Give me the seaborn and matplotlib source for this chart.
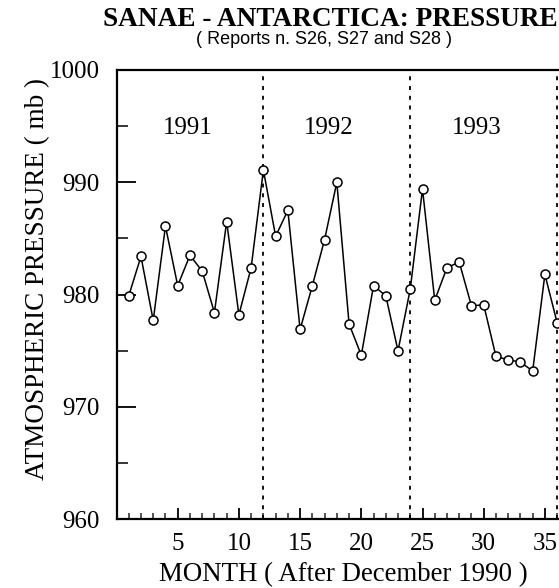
import numpy as np
import pandas as pd
import matplotlib
matplotlib.use("Agg")
import matplotlib.pyplot as plt
import seaborn as sns
from matplotlib.ticker import MultipleLocator

months = list(range(1, 37))
pressure = [979.9, 983.4, 977.7, 986.1, 980.8, 983.5, 982.1, 978.4, 986.5, 978.2,
            982.4, 991.1, 985.2, 987.5, 976.9, 980.8, 984.9, 990.0, 977.4, 974.6,
            980.8, 979.9, 975.0, 980.5, 989.4, 979.5, 982.4, 982.9, 979.0, 979.1,
            974.5, 974.2, 974.0, 973.2, 981.8, 977.5]
year_breaks = [12, 24, 36]
year_labels = ["1991", "1992", "1993"]
year_label_x = [5.8, 17.3, 29.4]
x_ticks = [5, 10, 15, 20, 25, 30, 35]
y_ticks = [960, 970, 980, 990, 1000]

df = pd.DataFrame({"month": months, "pressure": pressure})

sns.set_style("ticks")
plt.rcParams["font.family"] = ["Liberation Serif", "DejaVu Serif"]

W, H = 559, 588
fig = plt.figure(figsize=(W / 100, H / 100), dpi=100)
ax = fig.add_axes([116.5 / W, 1 - 519.3 / H, 37 * 12.24 / W, (519.3 - 70) / H])

sns.lineplot(data=df, x="month", y="pressure", ax=ax, color="black", lw=1.1,
             marker="o", markersize=6.5, markerfacecolor="white",
             markeredgecolor="black", markeredgewidth=1.1)

for xb in year_breaks:
    ax.axvline(xb, color="black", lw=1.3, ls=(0, (2.2, 3.2)), zorder=1)

for lab, xl in zip(year_labels, year_label_x):
    ax.text(xl, 994.8, lab, ha="center", va="center", fontsize=18, color="black")

ax.set_xlim(0, 37)
ax.set_ylim(960, 1000)
ax.set_xticks(x_ticks)
ax.set_yticks(y_ticks)
ax.xaxis.set_minor_locator(MultipleLocator(1))
ax.yaxis.set_minor_locator(MultipleLocator(5))
ax.tick_params(axis="both", which="major", direction="in", labelsize=18,
               color="black", labelcolor="black", width=1.3)
ax.tick_params(axis="y", which="major", length=14, pad=12)
ax.tick_params(axis="y", which="minor", direction="in", length=8, width=1.3)
ax.tick_params(axis="x", which="major", length=8, pad=10)
ax.tick_params(axis="x", which="minor", direction="in", length=4.5, width=1.1)

for side in ["left", "top", "bottom"]:
    ax.spines[side].set_visible(True)
    ax.spines[side].set_linewidth(1.6)
    ax.spines[side].set_color("black")
ax.spines["right"].set_visible(False)

ax.set_xlabel("MONTH ( After December 1990 )", fontsize=19.4, color="black", labelpad=5)
ax.set_ylabel("ATMOSPHERIC PRESSURE ( mb )", fontsize=19.5, color="black")
ax.yaxis.set_label_coords((50 - 116.5) / (37 * 12.24), (519.3 - 278.5) / 449.3)

fig.text(330 / W, 1 - 20 / H, "SANAE - ANTARCTICA: PRESSURE", ha="center", va="center",
         fontsize=19.6, fontweight="bold", color="black")
fig.text(324 / W, 1 - 39.5 / H, "( Reports n. S26, S27 and S28 )", ha="center", va="center",
         fontsize=13, color="black", family=["Liberation Sans", "DejaVu Sans"])

fig.savefig("out.png", dpi=100, facecolor="white")
